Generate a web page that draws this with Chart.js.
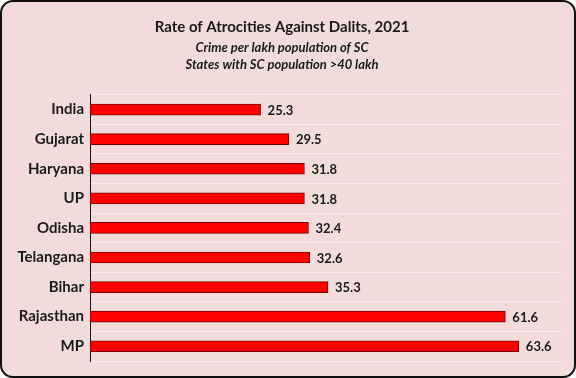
<!DOCTYPE html>
<html>
<head>
<meta charset="utf-8">
<script src="https://cdn.jsdelivr.net/npm/chart.js@4/dist/chart.umd.min.js"></script>
<style>
  html, body { margin: 0; padding: 0; background: #ffffff; }
  #frame {
    position: absolute; left: 0; top: 0;
    width: 576px; height: 378px;
    box-sizing: border-box;
    border: 2px solid #111;
    border-radius: 13px;
    background: #f2dcdb;
    overflow: hidden;
  }
  #frame canvas { display: block; }
</style>
</head>
<body>
<div id="frame"><canvas id="atrocityChart" width="572" height="374"></canvas></div>
<script>
// data
const states = ['India', 'Gujarat', 'Haryana', 'UP', 'Odisha', 'Telangana', 'Bihar', 'Rajasthan', 'MP'];
const rates = [25.3, 29.5, 31.8, 31.8, 32.4, 32.6, 35.3, 61.6, 63.6];
const titleText = 'Rate of Atrocities Against Dalits, 2021';
const subtitleLines = ['Crime per lakh population of SC', 'States with SC population >40 lakh'];

const textColor = '#1a1a1a';
const fontFamily = 'Lato, "Open Sans", sans-serif';

// tulis nilai di ujung batang
const valueLabels = {
    id: 'valueLabels',
    afterDatasetsDraw(chart) {
        const ctx = chart.ctx;
        const meta = chart.getDatasetMeta(0);
        ctx.save();
        ctx.font = 'bold 13px ' + fontFamily;
        ctx.fillStyle = textColor;
        ctx.textAlign = 'left';
        ctx.textBaseline = 'middle';
        meta.data.forEach((bar, i) => {
            ctx.fillText(rates[i].toFixed(1), bar.x + 7, bar.y + 1);
        });
        ctx.restore();
    }
};

const ctx = document.getElementById('atrocityChart').getContext('2d');
new Chart(ctx, {
    type: 'bar',
    data: {
        labels: states,
        datasets: [{
            data: rates,
            backgroundColor: '#ff0000',
            borderColor: '#7a0000',
            borderWidth: 1,
            borderSkipped: false,
            barThickness: 11
        }]
    },
    options: {
        indexAxis: 'y',
        responsive: false,
        animation: false,
        layout: { padding: { top: 10, right: 12, bottom: 12, left: 0 } },
        plugins: {
            legend: { display: false },
            tooltip: { enabled: false },
            title: {
                display: true,
                text: titleText,
                color: textColor,
                font: { family: fontFamily, size: 15, weight: 'bold' },
                padding: { top: 6, bottom: 3 }
            },
            subtitle: {
                display: true,
                text: subtitleLines,
                color: textColor,
                font: { family: fontFamily, size: 13, style: 'italic', weight: 'bold', lineHeight: 1.3 },
                padding: { top: 0, bottom: 22 }
            }
        },
        scales: {
            x: {
                min: 0,
                max: 70,
                display: false
            },
            y: {
                afterFit(scale) { scale.width = 88; },
                ticks: {
                    color: textColor,
                    padding: 6,
                    font: { family: fontFamily, size: 15, weight: 'bold' }
                },
                grid: {
                    offset: true,
                    drawTicks: false,
                    color: 'rgba(255,255,255,0.45)'
                },
                border: { display: true, color: '#111', width: 1 }
            }
        }
    },
    plugins: [valueLabels]
});
</script>
</body>
</html>
